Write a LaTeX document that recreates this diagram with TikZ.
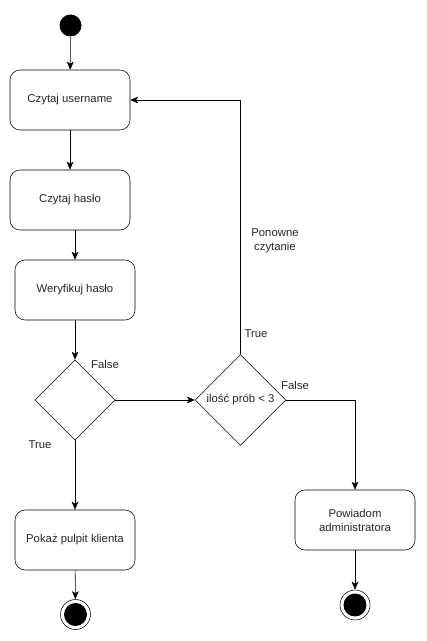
\documentclass[tikz,border=0pt]{standalone}
\usepackage{fontspec}
\setmainfont{Liberation Sans}
\usetikzlibrary{shapes.geometric,arrows.meta}

\begin{document}
\begin{tikzpicture}[x=0.75pt,y=0.75pt,yscale=-1,xscale=1,
	act/.style={draw,rounded corners=7.5,minimum width=90pt,minimum height=45pt,inner sep=0.75pt,align=center},
	dec/.style={draw,diamond,inner sep=0pt},
	startdot/.style={circle,fill=black,minimum size=16.5pt,inner sep=0pt},
	enddot/.style={circle,draw,minimum size=22.5pt,inner sep=0pt,path picture={\fill (path picture bounding box.center) circle (8.6pt);}},
	flow/.style={-{Stealth[length=6pt,width=5pt,inset=1.5pt]}},
	every node/.style={font=\fontsize{8.5}{10.5}\selectfont,text=black!85}]
		\useasboundingbox (0,0) rectangle (426,641);
		
		%Shape: Circle [id:start] 
		\node [startdot] (start) at (70.5,25.5) {};
		%Shape: Rounded Rect [id:user] 
		\node [act] (user) at (70,100) {Czytaj username};
		%Shape: Rounded Rect [id:pass] 
		\node [act] (pass) at (70,200) {Czytaj hasło};
		%Shape: Rounded Rect [id:verify] 
		\node [act] (verify) at (75,290) {Weryfikuj hasło};
		%Shape: Diamond [id:check] 
		\node [dec,minimum width=60pt,minimum height=60pt] (check) at (75,400) {};
		%Shape: Diamond [id:tries] 
		\node [dec,minimum width=68pt,minimum height=68pt,label={center:ilość prób < 3}] (tries) at (240.5,400) {};
		%Shape: Rounded Rect [id:show] 
		\node [act] (show) at (75,540) {Pokaż pulpit klienta};
		%Shape: Rounded Rect [id:admin] 
		\node [act] (admin) at (355,520) {Powiadom\\administratora};
		%Shape: Circle [id:endA] 
		\node [enddot] (endA) at (75.5,614.5) {};
		%Shape: Circle [id:endB] 
		\node [enddot] (endB) at (355,605) {};
		
		%Straight Lines
		\draw [flow] (start) -- (user);
		\draw [flow] (user) -- (pass);
		\draw [flow] (pass.south -| verify.north) -- (verify.north);
		\draw [flow] (verify) -- (check);
		\draw [flow] (check) -- (tries);
		\draw [flow] (check) -- (show);
		\draw [flow] (show) -- (endA);
		\draw [flow] (tries.north) |- (user.east);
		\draw [flow] (tries.east) -| (admin.north);
		\draw [flow] (admin) -- (endB);
		
		% Text Node
		\node (falseA) at (105,364) {False};
		% Text Node
		\node (trueA) at (40,445) {True};
		% Text Node
		\node (trueB) at (256,334) {True};
		% Text Node
		\node (falseB) at (295,385) {False};
		% Text Node
		\node [align=center] (again) at (275,241) {Ponowne\\czytanie};
		
\end{tikzpicture}
\end{document}
